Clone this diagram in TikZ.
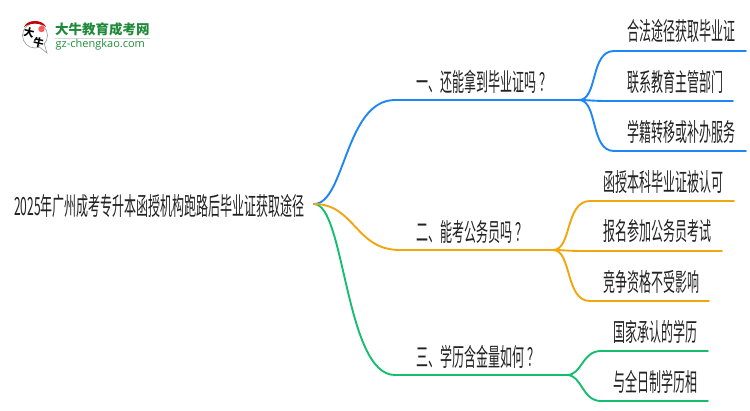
\documentclass[tikz,border=0pt]{standalone}
\usepackage{fontspec}
\setmainfont{Noto Sans CJK SC}[FakeStretch=0.48]
\newfontfamily\logof{Noto Sans CJK SC}
\newfontfamily\latinf{Open Sans}
\definecolor{cblue}{HTML}{1E86F5}
\definecolor{corange}{HTML}{F2A60D}
\definecolor{cgreen}{HTML}{14BE6E}
\definecolor{ctext}{HTML}{222222}
\definecolor{cgz}{HTML}{1F8A3A}
\newcommand{\qgap}{\hspace{3pt}}
\tikzset{
  lab/.style={font=\fontsize{25}{25}\selectfont,text=ctext,inner sep=0pt,anchor=west},
  conn/.style={line width=1.9pt,line cap=round},
}
\begin{document}
\begin{tikzpicture}[x=1pt,y=-1pt]
\useasboundingbox (0,0) rectangle (750,410);
% logo
\fill[white,draw=black!40,line width=.6pt] (35,35.5) circle (12.5);
\fill[white,draw=black!40,line width=.6pt] (38,46) -- (47,53) -- (44,43) -- cycle;
\fill[white] (36,43.5) -- (43.5,46) -- (44,41) -- cycle;
\fill[red!75!black] (24,27) .. controls (27,19) and (43,19) .. (46,27) .. controls (40,22.5) and (30,22.5) .. (24,27) -- cycle;
\fill[red!65!white] (41.5,29) circle (3.2);
\node[inner sep=0pt,rotate=-12,font=\logof\fontsize{10.5}{10.5}\selectfont\bfseries] (logoa) at (29,32.5) {大};
\node[inner sep=0pt,rotate=-12,font=\logof\fontsize{10.5}{10.5}\selectfont\bfseries] (logob) at (38.5,42.5) {牛};
\node[inner sep=0pt,anchor=west,text=cgz,font=\logof\fontsize{13.5}{13.5}\selectfont\bfseries] (logot) at (55,29.5) {大牛教育成考网};
\draw[black!15,line width=.7pt] (55,38.5) -- (150,38.5);
\node[inner sep=0pt,anchor=west,text=cgz,font=\latinf\fontsize{11}{11}\selectfont] (logou) at (55.5,45) {gz-chengkao.com};
% coordinates
\coordinate (r) at (314,204);
\coordinate (b) at (579,100);
\coordinate (o) at (553,250);
\coordinate (g) at (567,375);
\coordinate (b1) at (746,51); \coordinate (b2) at (733,101); \coordinate (b3) at (746,151);
\coordinate (o1) at (734,201); \coordinate (o2) at (722,251); \coordinate (o3) at (709,301);
\coordinate (g1) at (708,351); \coordinate (g2) at (708,401);
% connectors
\draw[conn,cblue] (r) .. controls (345,204) and (345,100) .. (395,100) -- (b);
\draw[conn,cgreen] (r) .. controls (345,204) and (345,375) .. (395,375) -- (g);
\draw[conn,corange] (r) .. controls (355,204) and (355,250) .. (400,250) -- (o);
\draw[conn,cblue] (b) .. controls (598,100) and (590,51) .. (614,51) -- (b1);
\draw[conn,cblue] (b) .. controls (590,100) and (590,101) .. (610,101) -- (b2);
\draw[conn,cblue] (b) .. controls (598,100) and (590,151) .. (614,151) -- (b3);
\draw[conn,corange] (o) .. controls (572,250) and (565,201) .. (590,201) -- (o1);
\draw[conn,corange] (o) .. controls (565,250) and (565,251) .. (585,251) -- (o2);
\draw[conn,corange] (o) .. controls (572,250) and (565,301) .. (590,301) -- (o3);
\draw[conn,cgreen] (g) .. controls (582,375) and (582,351) .. (601,351) -- (g1);
\draw[conn,cgreen] (g) .. controls (582,375) and (582,401) .. (601,401) -- (g2);
% labels
\node[lab] (root) at (14,206) {2025年广州成考专升本函授机构跑路后毕业证获取途径};
\node[lab] (m1) at (416,82) {一、还能拿到毕业证吗\qgap？};
\node[lab] (m2) at (416,232) {二、能考公务员吗\qgap？};
\node[lab] (m3) at (416,357) {三、学历含金量如何\qgap？};
\node[lab] (t1) at (627,31) {合法途径获取毕业证};
\node[lab] (t2) at (627,82) {联系教育主管部门};
\node[lab] (t3) at (627,132) {学籍转移或补办服务};
\node[lab] (t4) at (603,182) {函授本科毕业证被认可};
\node[lab] (t5) at (603,231) {报名参加公务员考试};
\node[lab] (t6) at (603,282) {竞争资格不受影响};
\node[lab] (t7) at (613,332) {国家承认的学历};
\node[lab] (t8) at (613,382) {与全日制学历相};
\end{tikzpicture}
\end{document}
